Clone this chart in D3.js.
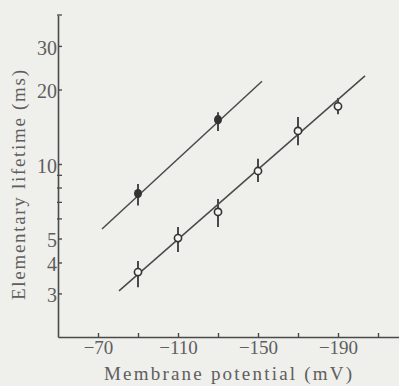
<!DOCTYPE html>
<html lang="en">
<head>
<meta charset="UTF-8">
<script src="https://d3js.org/d3.v7.min.js"></script>
<style>
  * { margin: 0; padding: 0; }
  body { background: #efefeb; }
  svg { display: block; }
</style>
</head>
<body>
<svg id="chart" width="399" height="386"></svg>
<script>
// membrane potential (mV) and lifetimes (ms)
var closedMV = [-90, -130];
var closedVal = [7.6, 15.1];
var closedLo = [6.8, 13.6];
var closedHi = [8.3, 16.2];

var openMV = [-90, -110, -130, -150, -170, -190];
var openVal = [3.66, 5.02, 6.4, 9.37, 13.6, 17.1];
var openLo = [3.18, 4.41, 5.56, 8.46, 11.9, 15.9];
var openHi = [4.06, 5.56, 7.22, 10.5, 15.5, 18.5];

// fitted lines, endpoints
var upperFitMV = [-72, -152];
var upperFitVal = [5.46, 21.6];
var lowerFitMV = [-80.5, -203.5];
var lowerFitVal = [3.07, 22.7];

var xTicks = [-70, -90, -110, -130, -150, -170, -190, -210];
var xLabels = ['\u221270', '', '\u2212110', '', '\u2212150', '', '\u2212190', ''];
var yMajor = [3, 4, 5, 10, 20, 30];
var yMinor = [6, 7, 8, 9, 40];

var ink = '#4a4a4a';
var textInk = '#5e5e5e';
var font = "'Liberation Serif', 'DejaVu Serif', serif";

var svg = d3.select('#chart');

var x = d3.scaleLinear().domain([-50, -220.5]).range([58, 399]);
var y = d3.scaleLog().domain([2, 40]).range([337, 15]);

// axes
var xAxis = svg.append('g').attr('transform', 'translate(0,337)')
  .call(d3.axisBottom(x).tickValues(xTicks).tickSize(-4).tickSizeOuter(0)
    .tickFormat(function(d, i) { return xLabels[i]; }));
xAxis.select('.domain').attr('stroke', ink).attr('stroke-width', 1.6);
xAxis.selectAll('.tick line').attr('stroke', ink).attr('stroke-width', 1.4);
xAxis.selectAll('.tick text').attr('fill', textInk).attr('font-family', font)
  .attr('font-size', 19).attr('y', 3).attr('dy', '0.71em');

var yAxis = svg.append('g').attr('transform', 'translate(58,0)')
  .call(d3.axisLeft(y).tickValues(yMajor).tickSize(-4).tickSizeOuter(0)
    .tickFormat(d3.format('d')));
yAxis.select('.domain').attr('stroke', ink).attr('stroke-width', 1.6);
yAxis.selectAll('.tick line').attr('stroke', ink).attr('stroke-width', 1.4);
yAxis.selectAll('.tick text').attr('fill', textInk).attr('font-family', font)
  .attr('font-size', 20).attr('x', -1).attr('dy', '0.42em');

svg.append('g').selectAll('line')
  .data(yMinor)
  .join('line')
  .attr('x1', 57).attr('x2', 62)
  .attr('y1', function(d) { return y(d); })
  .attr('y2', function(d) { return y(d); })
  .attr('stroke', ink).attr('stroke-width', 1.3);

// axis titles
svg.append('text')
  .attr('x', 228).attr('y', 380)
  .attr('text-anchor', 'middle')
  .attr('font-family', font).attr('font-size', 19).attr('fill', textInk)
  .attr('textLength', 248).attr('lengthAdjust', 'spacing')
  .text('Membrane potential (mV)');

svg.append('text')
  .attr('transform', 'translate(25,185) rotate(-90)')
  .attr('text-anchor', 'middle')
  .attr('font-family', font).attr('font-size', 19).attr('fill', textInk)
  .attr('textLength', 230).attr('lengthAdjust', 'spacing')
  .text('Elementary lifetime (ms)');

// fitted lines
var fits = [[upperFitMV, upperFitVal], [lowerFitMV, lowerFitVal]];
svg.append('g').selectAll('line')
  .data(fits)
  .join('line')
  .attr('x1', function(d) { return x(d[0][0]); })
  .attr('y1', function(d) { return y(d[1][0]); })
  .attr('x2', function(d) { return x(d[0][1]); })
  .attr('y2', function(d) { return y(d[1][1]); })
  .attr('stroke', ink).attr('stroke-width', 1.5);

// error bars
var bars = closedMV.map(function(v, i) { return [v, closedLo[i], closedHi[i]]; })
  .concat(openMV.map(function(v, i) { return [v, openLo[i], openHi[i]]; }));
svg.append('g').selectAll('line')
  .data(bars)
  .join('line')
  .attr('x1', function(d) { return x(d[0]); })
  .attr('x2', function(d) { return x(d[0]); })
  .attr('y1', function(d) { return y(d[1]); })
  .attr('y2', function(d) { return y(d[2]); })
  .attr('stroke', ink).attr('stroke-width', 2);

// points
svg.append('g').selectAll('ellipse')
  .data(closedMV.map(function(v, i) { return [v, closedVal[i]]; }))
  .join('ellipse')
  .attr('cx', function(d) { return x(d[0]); })
  .attr('cy', function(d) { return y(d[1]); })
  .attr('rx', 4).attr('ry', 4.6)
  .attr('fill', '#333');

svg.append('g').selectAll('circle')
  .data(openMV.map(function(v, i) { return [v, openVal[i]]; }))
  .join('circle')
  .attr('cx', function(d) { return x(d[0]); })
  .attr('cy', function(d) { return y(d[1]); })
  .attr('r', 3.6)
  .attr('fill', '#f4f4f0')
  .attr('stroke', '#333').attr('stroke-width', 1.6);
</script>
</body>
</html>
